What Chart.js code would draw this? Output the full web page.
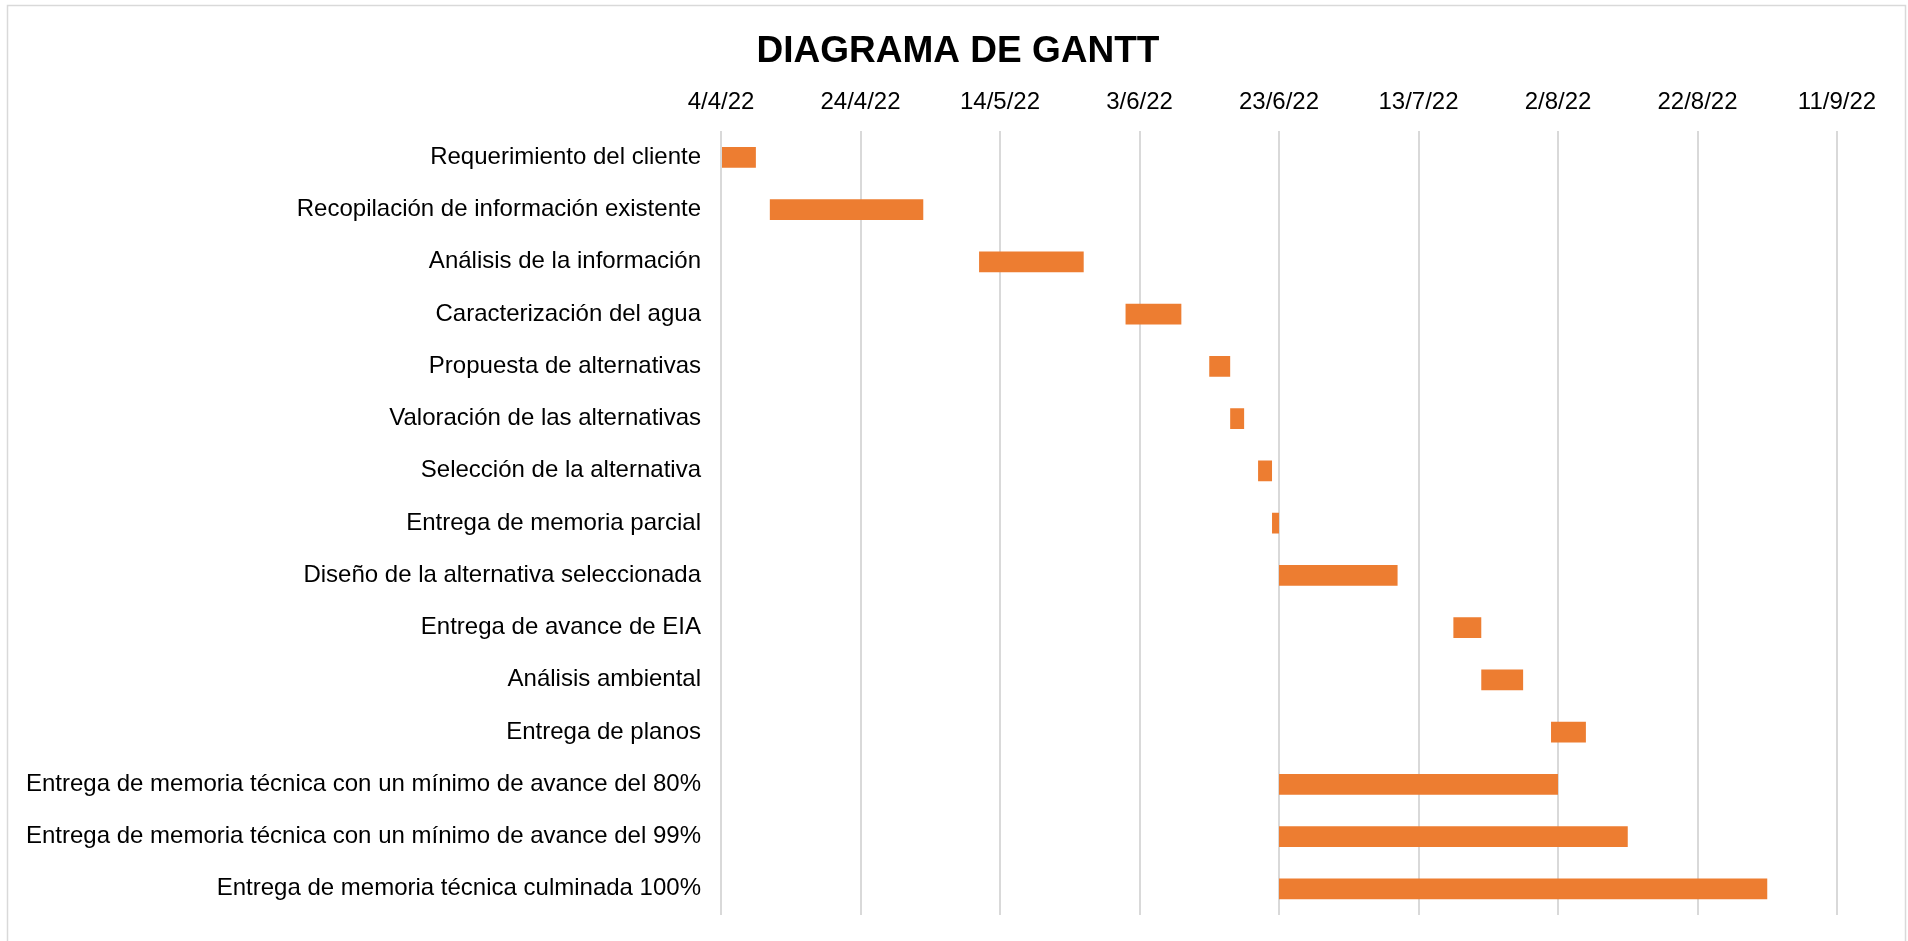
<!DOCTYPE html>
<html>
<head>
<meta charset="utf-8">
<title>Diagrama de Gantt</title>
<script src="https://cdn.jsdelivr.net/npm/chart.js@4/dist/chart.umd.min.js"></script>
<style>
    html, body { margin: 0; padding: 0; background: #fff; }
    #wrap { position: relative; width: 1908px; height: 941px; }
</style>
</head>
<body>
<div id="wrap"><canvas id="gantt"></canvas></div>
<script>
// Tareas del proyecto
const tareas = [
    'Requerimiento del cliente',
    'Recopilación de información existente',
    'Análisis de la información',
    'Caracterización del agua',
    'Propuesta de alternativas',
    'Valoración de las alternativas',
    'Selección de la alternativa',
    'Entrega de memoria parcial',
    'Diseño de la alternativa seleccionada',
    'Entrega de avance de EIA',
    'Análisis ambiental',
    'Entrega de planos',
    'Entrega de memoria técnica con un mínimo de avance del 80%',
    'Entrega de memoria técnica con un mínimo de avance del 99%',
    'Entrega de memoria técnica culminada 100%'
];

// Fecha de inicio de cada tarea
const fechasInicio = [
    '2022-04-04', '2022-04-11', '2022-05-11', '2022-06-01', '2022-06-13',
    '2022-06-16', '2022-06-20', '2022-06-22', '2022-06-23', '2022-07-18',
    '2022-07-22', '2022-08-01', '2022-06-23', '2022-06-23', '2022-06-23'
];

// Duración en días
const duraciones = [5, 22, 15, 8, 3, 2, 2, 1, 17, 4, 6, 5, 40, 50, 70];

// Rango del eje (días desde el inicio) y paso de las marcas
const fechaBase = '2022-04-04';
const diasMax = 160;
const pasoDias = 20;

const DIA = 86400000;
const base = Date.parse(fechaBase + 'T00:00:00Z');
const offset = f => Math.round((Date.parse(f + 'T00:00:00Z') - base) / DIA);

const barras = fechasInicio.map((f, i) => {
    const ini = offset(f);
    return [ini, ini + duraciones[i]];
});

function formatoFecha(dias) {
    const d = new Date(base + dias * DIA);
    return d.getUTCDate() + '/' + (d.getUTCMonth() + 1) + '/' + String(d.getUTCFullYear()).slice(2);
}

// marco gris (izquierda, arriba y derecha)
const marco = {
    id: 'marco',
    beforeDraw(chart) {
        const ctx = chart.ctx;
        ctx.save();
        ctx.fillStyle = '#fff';
        ctx.fillRect(0, 0, chart.width, chart.height);
        ctx.strokeStyle = '#d9d9d9';
        ctx.lineWidth = 1.5;
        ctx.beginPath();
        ctx.moveTo(7.5, chart.height);
        ctx.lineTo(7.5, 5.5);
        ctx.lineTo(1905.5, 5.5);
        ctx.lineTo(1905.5, chart.height);
        ctx.stroke();
        ctx.restore();
    }
};

const FUENTE = "'Liberation Sans', Arial, sans-serif";

new Chart(document.getElementById('gantt').getContext('2d'), {
    type: 'bar',
    data: {
        labels: tareas,
        datasets: [{
            data: barras,
            backgroundColor: '#ED7D31',
            borderWidth: 0,
            barPercentage: 0.5,
            categoryPercentage: 0.8
        }]
    },
    options: {
        indexAxis: 'y',
        responsive: true,
        maintainAspectRatio: false,
        animation: false,
        layout: {
            padding: { left: 10, right: 2, top: 10, bottom: 26 }
        },
        plugins: {
            legend: { display: false },
            tooltip: { enabled: false },
            title: {
                display: true,
                text: 'DIAGRAMA DE GANTT',
                color: '#000',
                font: { family: FUENTE, size: 37, weight: 'bold' },
                padding: { top: 20, bottom: 0 }
            }
        },
        scales: {
            x: {
                type: 'linear',
                position: 'top',
                min: 0,
                max: diasMax,
                grid: { color: '#d9d9d9', lineWidth: 2, drawTicks: false },
                border: { display: false },
                ticks: {
                    stepSize: pasoDias,
                    padding: 14,
                    color: '#000',
                    font: { family: FUENTE, size: 24 },
                    callback: v => formatoFecha(v)
                }
            },
            y: {
                grid: { display: false, drawTicks: false },
                border: { display: false },
                ticks: {
                    padding: 20,
                    color: '#000',
                    font: { family: FUENTE, size: 24 },
                    autoSkip: false
                },
                afterFit(scale) {
                    scale.width = 711;
                    // las etiquetas van centradas en cada fila, no hace falta margen extra
                    scale.paddingTop = 0;
                    scale.paddingBottom = 0;
                }
            },
            // eje vacío a la derecha: solo reserva el margen
            yDer: {
                type: 'category',
                position: 'right',
                grid: { display: false, drawTicks: false },
                border: { display: false },
                ticks: { display: false },
                afterFit(scale) {
                    scale.width = 69;
                }
            }
        }
    },
    plugins: [marco]
});
</script>
</body>
</html>
